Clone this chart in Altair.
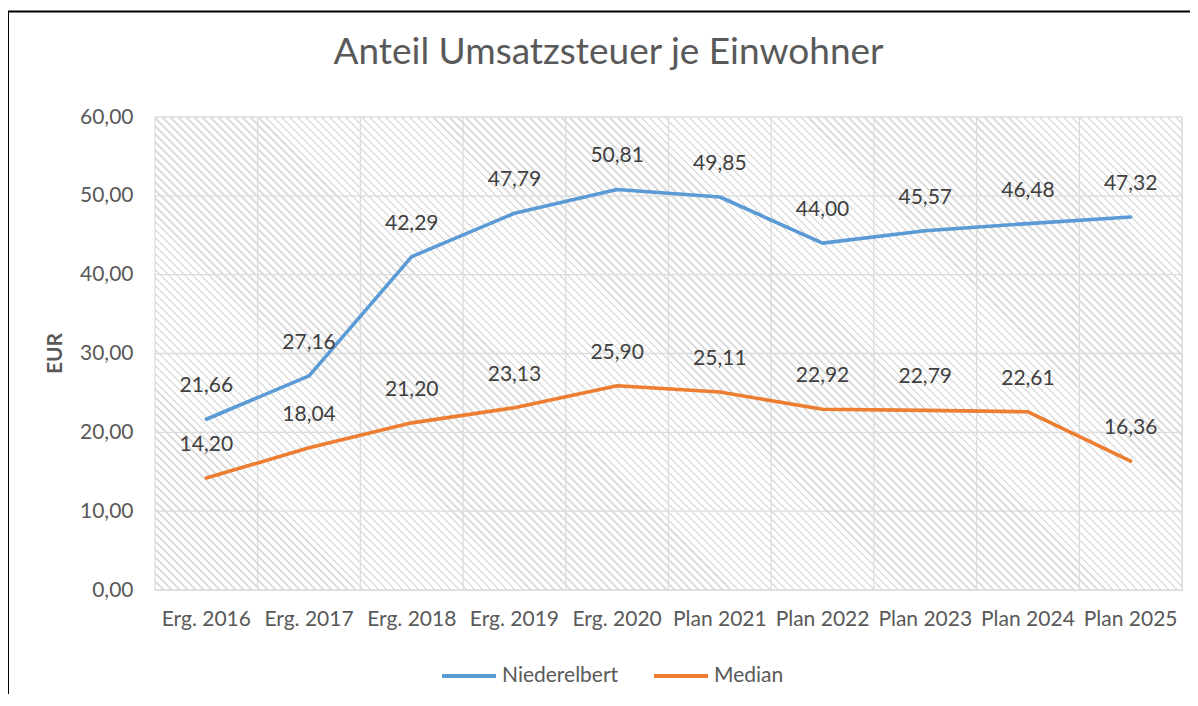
import altair as alt
import pandas as pd

categories = ["Erg. 2016", "Erg. 2017", "Erg. 2018", "Erg. 2019", "Erg. 2020",
              "Plan 2021", "Plan 2022", "Plan 2023", "Plan 2024", "Plan 2025"]
niederelbert = [21.66, 27.16, 42.29, 47.79, 50.81, 49.85, 44.00, 45.57, 46.48, 47.32]
median = [14.20, 18.04, 21.20, 23.13, 25.90, 25.11, 22.92, 22.79, 22.61, 16.36]
y_ticks = [0, 10, 20, 30, 40, 50, 60]
series_names = ["Niederelbert", "Median"]
series_colors = ["#5B9BD5", "#ED7D31"]

rows = []
for name, vals in zip(series_names, [niederelbert, median]):
    for c, v in zip(categories, vals):
        rows.append({"cat": c, "series": name, "value": v})
df = pd.DataFrame(rows)
cat_df = pd.DataFrame({"cat": categories})
tick_df = pd.DataFrame({"value": y_ticks})

W, H = 1027, 473
PAD_L, PAD_T, PAD_R, PAD_B = 147, 109, 8, 104
FONT = "Lato"
GRID = "#dcdcdc"
FS = 21

# diagonal hatch as a striped linear gradient
r = H / W
k = (1 + r) / (1 + r * r)
N = 188
frac = 0.32
gray = "#dddddd"
stops = []
for i in range(N):
    a = round(i / N, 6)
    b = round((i + frac) / N, 6)
    c = round((i + 1) / N, 6)
    stops += [{"offset": a, "color": gray}, {"offset": b, "color": gray},
              {"offset": b, "color": "#ffffff"}, {"offset": c, "color": "#ffffff"}]
hatch = {"gradient": "linear", "x1": 0, "y1": 1, "x2": k, "y2": 1 - k * r,
         "stops": stops}

label_expr = "replace(format(datum.value, '.2f'), '.', ',')"

xscale = alt.Scale(domain=categories, type="band", paddingInner=0, paddingOuter=0)
yscale = alt.Scale(domain=[0, 60], nice=False)

x_enc = alt.X("cat:N", sort=categories, scale=xscale, bandPosition=0.5,
              axis=alt.Axis(title=None, labelAngle=0, labelAlign="center",
                            ticks=False, domain=False,
                            grid=False, bandPosition=0.5, labelPadding=29,
                            labelFontSize=FS, labelColor="#595959",
                            labelFont=FONT, labelBaseline="middle"))
y_enc = alt.Y("value:Q", scale=yscale,
              axis=alt.Axis(title="EUR", values=y_ticks,
                            labelExpr=label_expr, ticks=False, domain=False,
                            grid=False,
                            labelPadding=22, labelFontSize=FS, labelColor="#595959",
                            labelFont=FONT, titleFont=FONT, titleFontSize=FS,
                            titleFontWeight="bold", titleColor="#595959",
                            titleX=-100, titleY=236, titleAngle=270,
                            titleAlign="center", titleBaseline="middle"))

color_enc = alt.Color("series:N", sort=series_names,
                      scale=alt.Scale(domain=series_names, range=series_colors),
                      legend=alt.Legend(title=None, orient="none", legendX=285,
                                        legendY=530, direction="horizontal",
                                        symbolType="stroke", symbolSize=2916,
                                        symbolStrokeWidth=4, labelFontSize=FS,
                                        labelColor="#595959", labelFont=FONT,
                                        labelOffset=4, columnPadding=27,
                                        padding=0))

bg = alt.Chart(pd.DataFrame({"f": [0]})).mark_rect(fill=hatch).encode(
    x=alt.value(0), x2=alt.value(W), y=alt.value(0), y2=alt.value(H))

vgrid = alt.Chart(cat_df).mark_rule(color=GRID, strokeWidth=1.3).encode(
    x=alt.X("cat:N", sort=categories, bandPosition=0),
    y=alt.value(0), y2=alt.value(H))
vgrid_end = alt.Chart(cat_df).transform_filter(
    alt.datum.cat == categories[-1]
).mark_rule(color=GRID, strokeWidth=1.3).encode(
    x=alt.X("cat:N", sort=categories, bandPosition=1),
    y=alt.value(0), y2=alt.value(H))
hgrid = alt.Chart(tick_df).mark_rule(color=GRID, strokeWidth=1.3).encode(
    y=alt.Y("value:Q"), x=alt.value(0), x2=alt.value(W))

lines = alt.Chart(df).mark_line(strokeWidth=3.6, strokeCap="round",
                                strokeJoin="round").encode(
    x=x_enc, y=y_enc, color=color_enc)

labels = alt.Chart(df).transform_calculate(
    lbl="replace(format(datum.value, '.2f'), '.', ',')"
).mark_text(dy=-33, fontSize=FS, font=FONT, color="#404040",
            baseline="middle").encode(
    x=alt.X("cat:N", sort=categories, bandPosition=0.5),
    y="value:Q", text="lbl:N")

frame_df = pd.DataFrame({"f": [0]})
frame_left = alt.Chart(frame_df).mark_rule(color="#000000", strokeWidth=2).encode(
    x=alt.value(-147), y=alt.value(-105.5), y2=alt.value(H + PAD_B + 10))
frame_top = alt.Chart(frame_df).mark_rule(color="#000000", strokeWidth=2).encode(
    x=alt.value(-148), x2=alt.value(W + PAD_R + 20), y=alt.value(-105.5))

chart = alt.layer(bg, vgrid, vgrid_end, hgrid, lines, labels,
                  frame_left, frame_top).properties(
    width=W, height=H,
    autosize=alt.AutoSizeParams(type="none"),
    padding={"left": PAD_L, "top": PAD_T, "right": PAD_R, "bottom": PAD_B},
    title=alt.TitleParams("Anteil Umsatzsteuer je Einwohner", anchor="middle",
                          dx=-60, dy=90.5, offset=0, baseline="alphabetic",
                          fontSize=37, font=FONT,
                          fontWeight="normal", color="#595959"),
).configure_view(
    stroke=None
).configure(background="#ffffff")

chart.save("out.html", embed_options={"renderer": "svg", "actions": False})
